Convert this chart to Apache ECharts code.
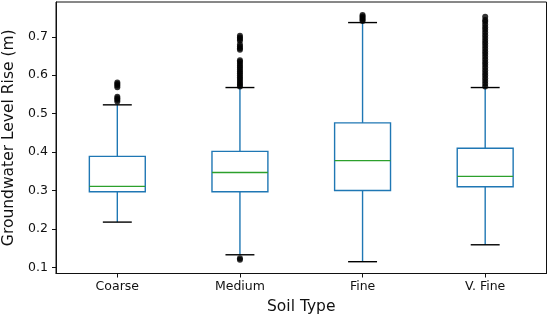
<!DOCTYPE html>
<html>
<head>
<meta charset="utf-8">
<script src="https://cdn.jsdelivr.net/npm/echarts@6/dist/echarts.min.js"></script>
<style>html,body{margin:0;padding:0;background:#fff}#c{width:550px;height:320px}</style>
</head>
<body>
<div id="c"></div>
<script>
// Categories
const categories = ['Coarse', 'Medium', 'Fine', 'V. Fine'];
// Box statistics: [lower whisker, Q1, median, Q3, upper whisker]
const coarseStats = [0.218, 0.297, 0.311, 0.389, 0.523];
const mediumStats = [0.133, 0.297, 0.347, 0.402, 0.568];
const fineStats   = [0.115, 0.300, 0.378, 0.476, 0.737];
const vfineStats  = [0.159, 0.310, 0.337, 0.410, 0.568];
// Outliers (fliers) per category
const coarseFliers = [0.532, 0.536, 0.540, 0.544, 0.569, 0.573, 0.577, 0.581];
const mediumFliers = [0.120, 0.124, 0.571, 0.575, 0.580, 0.585, 0.590, 0.595, 0.600, 0.605, 0.610, 0.615, 0.620, 0.625, 0.630, 0.635, 0.639,
                      0.666, 0.670, 0.675, 0.680, 0.690, 0.694, 0.698, 0.703];
const fineFliers   = [0.741, 0.745, 0.749, 0.753, 0.757];
const vfineFliers  = [0.571, 0.578, 0.585, 0.592, 0.599, 0.606, 0.613, 0.620, 0.627, 0.634, 0.641, 0.648, 0.655, 0.662, 0.669, 0.676,
                      0.683, 0.690, 0.697, 0.704, 0.711, 0.718, 0.725, 0.732, 0.739, 0.744, 0.752];
// Axis tick values
const yTicks = [0.1, 0.2, 0.3, 0.4, 0.5, 0.6, 0.7];
const yMin = 0.0843, yMax = 0.7905;

const allStats = [coarseStats, mediumStats, fineStats, vfineStats];
const allFliers = [coarseFliers, mediumFliers, fineFliers, vfineFliers];
const boxData = allStats.map((s, i) => [i].concat(s));
const flierData = [];
allFliers.forEach((arr, i) => arr.forEach(v => flierData.push([i, v])));

const FONT = 'DejaVu Sans';
const BLUE = '#1f77b4', GREEN = '#2ca02c', BLACK = '#000';

function renderBox(params, api) {
  const i = api.value(0);
  const band = api.size([1, 0])[0];
  const x = api.coord([i, api.value(3)])[0];
  const yLo = api.coord([i, api.value(1)])[1];
  const yQ1 = api.coord([i, api.value(2)])[1];
  const yMed = api.coord([i, api.value(3)])[1];
  const yQ3 = api.coord([i, api.value(4)])[1];
  const yHi = api.coord([i, api.value(5)])[1];
  const bw = band * 0.456, cw = band * 0.236;
  const lw = 1.4;
  return {
    type: 'group',
    children: [
      {type: 'line', shape: {x1: x, y1: yQ3, x2: x, y2: yHi}, style: {stroke: BLUE, lineWidth: lw}},
      {type: 'line', shape: {x1: x, y1: yQ1, x2: x, y2: yLo}, style: {stroke: BLUE, lineWidth: lw}},
      {type: 'rect', shape: {x: x - bw / 2, y: yQ3, width: bw, height: yQ1 - yQ3}, style: {stroke: BLUE, fill: null, lineWidth: lw}},
      {type: 'line', shape: {x1: x - bw / 2, y1: yMed, x2: x + bw / 2, y2: yMed}, style: {stroke: GREEN, lineWidth: lw}},
      {type: 'line', shape: {x1: x - cw / 2, y1: yHi, x2: x + cw / 2, y2: yHi}, style: {stroke: BLACK, lineWidth: lw}},
      {type: 'line', shape: {x1: x - cw / 2, y1: yLo, x2: x + cw / 2, y2: yLo}, style: {stroke: BLACK, lineWidth: lw}}
    ]
  };
}

const chart = echarts.init(document.getElementById('c'), null, {renderer: 'canvas'});
chart.setOption({
  animation: false,
  backgroundColor: '#fff',
  grid: {left: 56, right: 3.5, top: 2, bottom: 46.5, show: true, borderColor: '#111', borderWidth: 1,
    backgroundColor: 'transparent', containLabel: false, outerBoundsMode: 'none'},
  xAxis: {
    type: 'category',
    data: categories,
    boundaryGap: true,
    name: 'Soil Type',
    nameLocation: 'middle',
    nameGap: 25,
    nameTextStyle: {fontFamily: FONT, fontSize: 15.5, color: '#111'},
    axisLine: {show: true, lineStyle: {color: '#111', width: 1}},
    axisTick: {show: true, alignWithLabel: true, length: 4, lineStyle: {color: '#111'}},
    axisLabel: {fontFamily: FONT, fontSize: 12.5, color: '#111', margin: 7},
    splitLine: {show: false}
  },
  yAxis: {
    type: 'value',
    min: yMin,
    max: yMax,
    name: 'Groundwater Level Rise (m)',
    nameLocation: 'middle',
    nameGap: 38,
    nameTextStyle: {fontFamily: FONT, fontSize: 15.5, color: '#111'},
    axisLine: {show: true, lineStyle: {color: '#111', width: 1}},
    axisTick: {show: true, length: 4, customValues: yTicks, lineStyle: {color: '#111'}},
    axisLabel: {fontFamily: FONT, fontSize: 12.5, color: '#111', margin: 8, customValues: yTicks,
      formatter: v => Number(v).toFixed(1)},
    splitLine: {show: false}
  },
  series: [
    {type: 'custom', renderItem: renderBox, data: boxData, encode: {x: 0, y: [1, 2, 3, 4, 5]}, z: 2},
    {type: 'scatter', data: flierData, symbol: 'circle', symbolSize: 6,
      itemStyle: {color: BLACK, borderWidth: 0}, z: 3}
  ]
});
</script>
</body>
</html>
